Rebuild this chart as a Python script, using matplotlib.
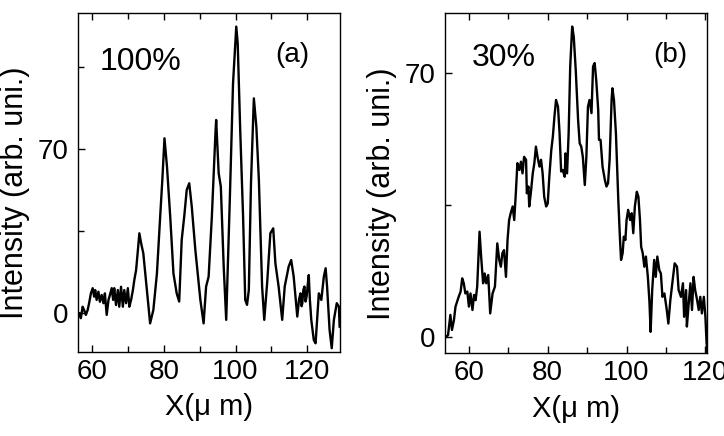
import numpy as np
import matplotlib.pyplot as plt
from matplotlib.ticker import MultipleLocator

plt.rcParams['font.family'] = ['Liberation Sans', 'DejaVu Sans']

# panel (a): 100 %
xa = [56.5, 56.9, 57.4, 57.8, 58.3, 58.8, 59.2, 59.7, 60.2, 60.6, 60.9, 61.3,
      61.8, 62.2, 62.7, 63.2, 63.6, 64.1, 64.6, 65.0, 65.5, 65.9, 66.2, 66.7,
      67.2, 67.6, 68.1, 68.6, 69.0, 69.5, 70.0, 70.4, 70.9, 71.4, 71.8, 72.3,
      72.8, 73.2, 73.7, 74.3, 75.3, 76.2,
      77.1, 78.1, 79.0, 79.6, 80.2, 80.9, 81.8, 82.7, 83.6, 84.3, 85.0, 85.7,
      86.4, 87.1, 87.8, 88.8, 90.2, 91.1, 91.8, 92.5, 93.4, 94.4, 94.6, 95.3,
      95.9, 96.7, 97.4, 98.4, 99.3, 100.2, 100.6, 101.3, 102.1, 102.7, 103.2,
      103.7, 104.3, 105.1, 105.8, 106.5, 107.4, 108.0, 108.8, 109.7, 110.5,
      111.1, 112.0, 113.0, 113.7, 114.8, 115.5, 116.2, 117.2, 117.7, 118.1,
      118.4, 118.6, 118.9, 119.2, 119.5, 119.8, 120.1, 120.4, 120.7, 121.1,
      121.8, 122.3, 123.2, 123.9, 124.6, 125.1, 125.5, 126.2, 126.8, 127.4,
      128.2, 128.8, 129.0]
ya = [0.0, -2.1, 2.8, 1.4, -0.7, 1.4, 4.3, 8.5, 10.7, 7.1, 9.9, 5.7,
      9.2, 4.9, 7.8, 4.3, 8.5, -0.7, 5.7, 7.8, 10.7, 5.7, 10.7, 3.5,
      9.9, 2.8, 11.3, 2.8, 9.9, 4.3, 10.7, 2.8, 5.7, 9.9, 14.2, 18.5,
      27.0, 34.1, 29.8, 25.6, 9.9, -4.3,
      1.4, 17.0, 41.2, 56.8, 74.6, 62.5, 41.2, 17.0, 8.5, 5.0, 31.3, 41.2,
      52.6, 55.4, 45.5, 27.0, 5.7, -4.3, 11.4, 15.6, 41.2, 76.7, 82.4, 59.7,
      54.0, 19.9, -2.8, 48.3, 98.0, 122.2, 115.1, 78.1, 41.2, 5.7, 3.6,
      9.9, 55.4, 91.6, 79.5, 56.8, 11.4, -2.8, 12.8, 34.1, 36.2,
      21.3, 11.4, -2.8, 11.4, 19.9, 22.7, 15.6, -1.4, 6.0, 8.5,
      3.0, 4.3, 10.0, 11.4, 5.0, 7.1, 12.0, 16.3, 6.0, -2.8,
      -11.4, -12.8, 8.5, 5.7, 15.6, 19.2, 11.4, -7.1, -14.9, -2.8,
      4.3, 2.8, -5.7]

# panel (b): 30 %
xb = [54.2, 54.7, 55.3, 55.7, 56.2, 56.6, 57.4, 57.9, 58.3, 58.7, 59.1, 59.6,
      60.0, 60.4, 60.9, 61.3, 61.7, 62.1, 62.7, 63.1, 63.6, 64.0, 64.4, 64.9,
      65.4, 66.0, 66.6, 67.2, 67.7, 68.1, 68.5, 68.9, 69.4, 69.8, 70.2, 70.6,
      71.1, 71.5, 71.9, 72.3, 72.8, 73.2, 73.6, 74.0, 74.5, 74.7, 75.1, 75.3,
      75.7, 76.2, 76.6, 77.0, 77.4, 77.9, 78.3, 78.7, 79.1, 79.6, 80.0, 80.4,
      80.9, 81.3, 81.7, 82.1, 82.6, 83.0, 83.4, 83.8, 84.3, 84.5, 84.9, 85.3,
      85.7, 86.2, 86.6, 87.1, 87.7, 88.1, 88.5, 88.9, 89.4, 89.8, 90.2, 90.6,
      91.1, 91.5, 91.9, 92.3, 92.8, 93.0, 93.4, 93.9, 94.5, 94.9, 95.3, 95.7,
      96.2, 96.4, 96.8, 97.3, 97.9, 98.3, 98.6, 99.0, 99.3, 99.7, 100.0, 100.4,
      100.9, 101.3, 101.7, 102.1, 102.6, 103.0, 103.4, 103.7, 104.1, 104.5,
      104.9, 105.4, 105.8, 106.1, 106.5, 107.0, 107.4, 107.8, 108.3, 108.7,
      109.1, 109.6, 110.2, 110.6, 111.1, 111.5, 112.2, 112.8, 113.2, 113.8,
      114.3, 114.6, 115.1, 115.3, 115.7, 116.2, 116.6, 117.0, 117.4, 117.9,
      118.3, 118.7, 119.1, 119.6, 120.0, 120.3, 120.6, 120.9]
yb = [0.0, 0.4, 5.8, 1.8, 4.4, 8.0, 10.6, 12.0, 15.5, 14.2, 11.5, 12.0,
      8.0, 11.5, 7.1, 11.1, 9.7, 13.3, 27.9, 21.3, 14.2, 16.8, 14.2, 16.4,
      6.2, 11.5, 13.3, 24.8, 20.4, 18.6, 22.2, 23.0, 15.9, 25.7, 31.0, 32.8,
      34.6, 31.0, 38.1, 46.1, 44.3, 46.5, 43.4, 47.8, 47.0, 38.1, 39.9, 34.6,
      38.1, 43.4, 46.1, 50.5, 47.8, 45.2, 47.0, 43.4, 37.2, 34.6, 35.4, 42.5,
      49.6, 53.2, 58.5, 62.9, 61.1, 54.0, 43.9, 44.3, 42.5, 48.7, 43.4, 54.0,
      71.8, 82.4, 79.7, 70.9, 57.6, 51.4, 50.5, 47.8, 40.3, 47.8, 61.1, 62.9,
      59.4, 71.8, 72.7, 68.2, 60.3, 52.3, 52.3, 45.2, 41.6, 39.9, 40.8, 47.0,
      62.9, 66.0, 62.9, 54.0, 36.3, 26.6, 20.4, 22.2, 26.6, 25.7, 31.0, 33.7,
      31.0, 32.8, 27.5, 34.6, 38.5, 37.2, 31.0, 23.9, 22.2, 18.6,
      21.3, 15.9, 9.3, 1.3, 12.4, 20.4, 15.9, 21.3, 17.7, 16.8,
      10.6, 11.5, 7.1, 3.5, 9.7, 13.3, 19.5, 18.6, 12.4, 10.6,
      14.2, 5.3, 12.4, 2.7, 8.0, 14.2, 7.1, 15.9, 12.4, 9.7,
      7.1, 10.6, 6.2, 10.6, 5.3, -1.8, -4.4, 2.7]

x_ticks = [60, 80, 100, 120]
y_ticks = [0, 70]


def style_axis(ax, xlim, ylim, ylabel_x):
    ax.set_xlim(*xlim)
    ax.set_ylim(*ylim)
    ax.set_xticks(x_ticks)
    ax.set_yticks(y_ticks)
    ax.xaxis.set_minor_locator(MultipleLocator(10))
    ax.yaxis.set_minor_locator(MultipleLocator(35))
    ax.tick_params(which='both', direction='in', top=True, right=False,
                   width=1.0, labelsize=20)
    ax.tick_params(which='major', length=5)
    ax.tick_params(which='minor', length=4)
    ax.tick_params(axis='x', pad=5)
    ax.tick_params(axis='y', pad=7)
    for s in ax.spines.values():
        s.set_linewidth(1.0)
    ax.set_xlabel('X(\u03bc m)', fontsize=21, labelpad=6)
    ax.set_ylabel('Intensity (arb. uni.)', fontsize=22)
    ax.yaxis.set_label_coords(ylabel_x, 0.47)


fig = plt.figure(figsize=(7.24, 4.36), dpi=100)
ax1 = fig.add_axes([0.1077, 0.1927, 0.3619, 0.7775])
ax2 = fig.add_axes([0.6150, 0.1897, 0.3615, 0.7805])

ax1.plot(xa, ya, color='black', lw=1.7)
style_axis(ax1, (56.1, 129.1), (-16.5, 128), -0.182)
ax1.text(0.084, 0.855, '100%', transform=ax1.transAxes, fontsize=23,
         va='center', ha='left')
ax1.text(0.752, 0.876, '(a)', transform=ax1.transAxes, fontsize=20,
         va='center', ha='left')

ax2.plot(xb, yb, color='black', lw=1.7)
style_axis(ax2, (54.0, 120.4), (-4.4, 86), -0.185)
ax2.text(0.102, 0.867, '30%', transform=ax2.transAxes, fontsize=23,
         va='center', ha='left')
ax2.text(0.796, 0.877, '(b)', transform=ax2.transAxes, fontsize=20,
         va='center', ha='left')

fig.savefig('out.png', dpi=100)
